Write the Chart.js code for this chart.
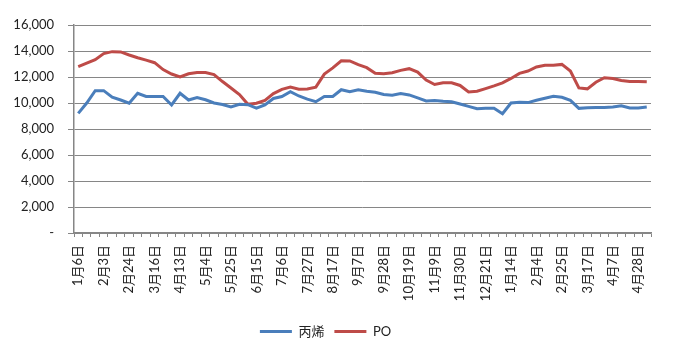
<!DOCTYPE html>
<html>
<head>
<meta charset="utf-8">
<script src="https://cdn.jsdelivr.net/npm/chart.js@4"></script>
<style>
  html, body { margin: 0; padding: 0; background: #fff; }
  #wrap { width: 673px; height: 354px; position: relative; }
</style>
</head>
<body>
<div id="wrap"><canvas id="chart"></canvas></div>
<script>
// Weekly prices, propylene vs PO. Only every third week carries a visible date label.
const tickLabels = [
  "1月6日", "2月3日", "2月24日", "3月16日", "4月13日", "5月4日", "5月25日", "6月15日",
  "7月6日", "7月27日", "8月17日", "9月7日", "9月28日", "10月19日", "11月9日", "11月30日",
  "12月21日", "1月14日", "2月4日", "2月25日", "3月17日", "4月7日", "4月28日",
];

const propylene = [
  9200, 10000, 10950, 10950, 10450, 10230, 9980, 10750, 10500, 10500,
  10500, 9850, 10750, 10230, 10420, 10250, 10000, 9880, 9700, 9900,
  9870, 9600, 9850, 10350, 10500, 10870, 10540, 10300, 10100, 10500,
  10500, 11020, 10870, 11020, 10900, 10820, 10650, 10600, 10720, 10620,
  10390, 10160, 10200, 10130, 10100, 9920, 9740, 9560, 9590, 9590,
  9170, 10000, 10050, 10030, 10210, 10360, 10520, 10440, 10200, 9590,
  9640, 9660, 9660, 9690, 9790, 9610, 9610, 9690,
];

const po = [
  12800, 13070, 13330, 13800, 13950, 13930, 13690, 13480, 13300, 13100,
  12570, 12230, 12000, 12250, 12350, 12350, 12180, 11650, 11150, 10650,
  9900, 9980, 10200, 10720, 11050, 11220, 11060, 11080, 11220, 12220,
  12700, 13250, 13240, 12950, 12720, 12280, 12250, 12330, 12510, 12640,
  12380, 11760, 11420, 11550, 11550, 11350, 10850, 10900, 11110, 11320,
  11550, 11890, 12280, 12460, 12770, 12900, 12900, 12970, 12460, 11160,
  11090, 11600, 11940, 11890, 11730, 11650, 11650, 11630,
];

const LABEL_EVERY = 3;
const categories = propylene.map((_, i) => (i % LABEL_EVERY === 0 ? tickLabels[i / LABEL_EVERY] || "" : ""));

const AXIS_GRAY = "#868686";

Chart.defaults.font.family = "Lato, 'Noto Sans CJK SC', sans-serif";
Chart.defaults.font.size = 13;
Chart.defaults.color = "#222";
Chart.defaults.animation = false;

function fmtNum(v) {
  if (v === 0) return "-";
  return v.toLocaleString("en-US");
}

new Chart(document.getElementById("chart"), {
  type: "line",
  data: {
    labels: categories,
    datasets: [
      { label: "丙烯", data: propylene, borderColor: "#4A7EBB", backgroundColor: "#4A7EBB", borderWidth: 3, pointRadius: 0, tension: 0 },
      { label: "PO", data: po, borderColor: "#BE4B48", backgroundColor: "#BE4B48", borderWidth: 3, pointRadius: 0, tension: 0 },
    ],
  },
  options: {
    responsive: true,
    maintainAspectRatio: false,
    layout: { padding: { top: 25, right: 22, left: 0, bottom: 6 } },
    plugins: {
      tooltip: { enabled: false },
      legend: {
        position: "bottom",
        labels: { usePointStyle: true, pointStyle: "line", pointStyleWidth: 32, boxHeight: 12, padding: 10, color: "#222" },
      },
    },
    scales: {
      x: {
        offset: true,
        grid: { offset: true, drawOnChartArea: false, color: AXIS_GRAY, tickLength: 4 },
        border: { color: AXIS_GRAY, width: 1.5 },
        ticks: { autoSkip: false, minRotation: 90, maxRotation: 90, padding: 8 },
        afterFit: (s) => { s.height = 82; },
      },
      y: {
        min: 0,
        max: 16000,
        ticks: { stepSize: 2000, padding: 14, callback: (v) => fmtNum(v) },
        grid: { color: AXIS_GRAY, tickLength: 6 },
        border: { color: AXIS_GRAY, width: 1.5 },
        afterFit: (s) => { s.width = 74; },
      },
    },
  },
});
</script>
</body>
</html>
